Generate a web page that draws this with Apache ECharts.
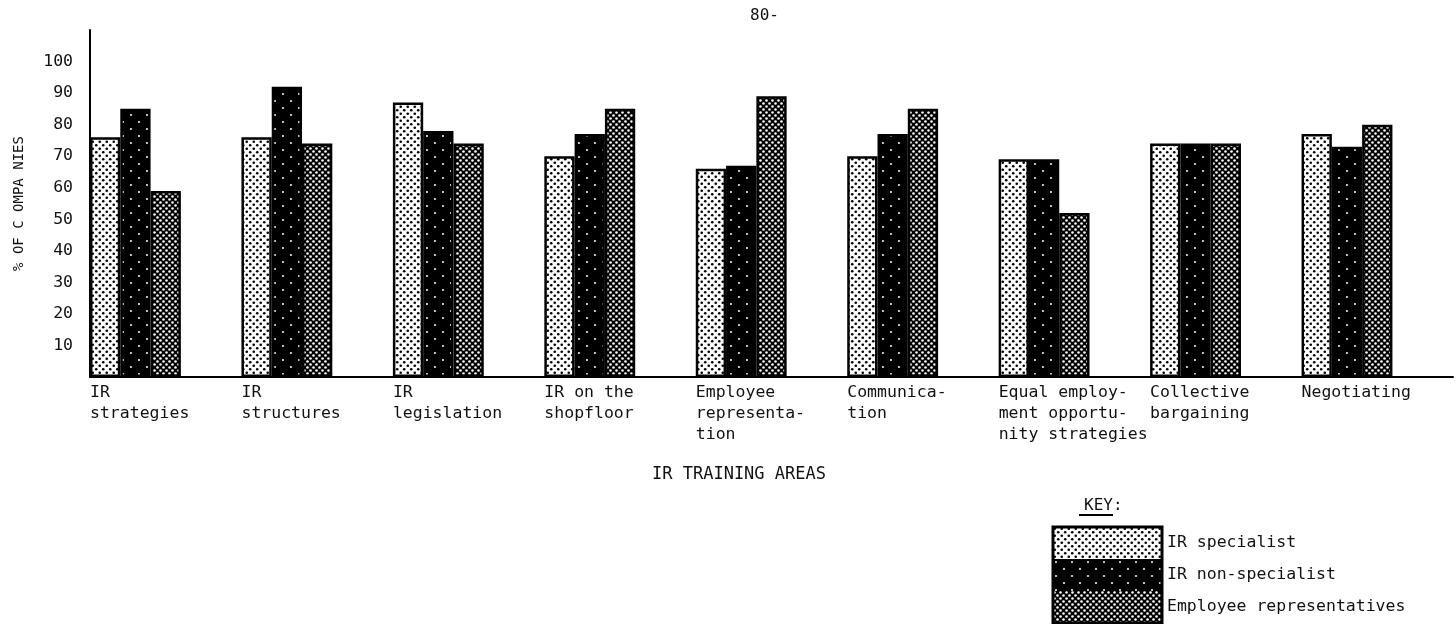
<!DOCTYPE html>
<html>
<head>
<meta charset="utf-8">
<script src="https://cdn.jsdelivr.net/npm/echarts@6/dist/echarts.min.js"></script>
<style>
html,body{margin:0;padding:0;background:#fff;}
#chart{width:1456px;height:624px;}
</style>
</head>
<body>
<div id="chart"></div>
<script>
const categories = [
  'IR\nstrategies',
  'IR\nstructures',
  'IR\nlegislation',
  'IR on the\nshopfloor',
  'Employee\nrepresenta-\ntion',
  'Communica-\ntion',
  'Equal employ-\nment opportu-\nnity strategies',
  'Collective\nbargaining',
  'Negotiating'
];
const seriesNames = ['IR specialist', 'IR non-specialist', 'Employee representatives'];
const irSpecialist    = [76, 76, 87, 70, 66, 70, 69, 74, 77];
const irNonSpecialist = [85, 92, 78, 77, 67, 77, 69, 74, 73];
const employeeReps    = [59, 74, 74, 85, 89, 85, 52, 74, 80];
const yTicks = [10, 20, 30, 40, 50, 60, 70, 80, 90, 100];

const FONT = '"DejaVu Sans Mono", "Liberation Mono", monospace';

function pattern(w, h, bg, fg, dots, r) {
  const c = document.createElement('canvas');
  c.width = w; c.height = h;
  const g = c.getContext('2d');
  g.fillStyle = bg; g.fillRect(0, 0, w, h);
  g.fillStyle = fg;
  dots.forEach(d => { g.beginPath(); g.arc(d[0], d[1], r, 0, Math.PI * 2); g.fill(); });
  return { image: c, repeat: 'repeat' };
}
const patSpec = pattern(7, 7, '#fff', '#000', [[1.75, 1.75], [5.25, 5.25]], 1.3);
const patNon  = pattern(16, 14, '#000', '#fff', [[3, 3], [11, 10]], 1.0);
const patEmp  = pattern(6, 6, '#000', '#fff', [[1.5, 1.5], [4.5, 4.5]], 1.3);
const pats = [patSpec, patNon, patEmp];
const values = [irSpecialist, irNonSpecialist, employeeReps];

const series = seriesNames.map((n, i) => ({
  name: n,
  type: 'bar',
  data: values[i],
  barGap: '0%',
  barCategoryGap: '0%',
  itemStyle: { color: pats[i], borderColor: '#000', borderWidth: 2.5 },
  emphasis: { disabled: true }
}));
// two empty slots so each group sits at the left of its band
series.push({ name: '_s1', type: 'bar', data: categories.map(() => null), barGap: '0%', barCategoryGap: '0%' });
series.push({ name: '_s2', type: 'bar', data: categories.map(() => null), barGap: '0%', barCategoryGap: '0%' });

const chart = echarts.init(document.getElementById('chart'), null, { renderer: 'canvas' });
chart.setOption({
  animation: false,
  backgroundColor: '#fff',
  title: [
    { text: '80-', left: 745, top: 3, textStyle: { fontFamily: FONT, fontSize: 16, fontWeight: 'normal', color: '#111' } },
    { text: 'IR TRAINING AREAS', left: 647, top: 461, textStyle: { fontFamily: FONT, fontSize: 17, fontWeight: 'normal', color: '#111' } },
    { text: 'KEY:', left: 1079, top: 493, textStyle: { fontFamily: FONT, fontSize: 16, fontWeight: 'normal', color: '#111' } }
  ],
  graphic: [
    { type: 'line', shape: { x1: 1079, y1: 515, x2: 1113, y2: 515 }, style: { stroke: '#000', lineWidth: 2 } },
    { type: 'rect', shape: { x: 1053, y: 527, width: 109, height: 96 }, style: { fill: 'none', stroke: '#000', lineWidth: 3 }, z: 100 }
  ],
  legend: {
    data: seriesNames,
    orient: 'vertical',
    left: 1053, top: 527, height: 120,
    padding: 0,
    itemWidth: 109, itemHeight: 32, itemGap: 0,
    icon: 'rect',
    itemStyle: { borderWidth: 0 },
    textStyle: { fontFamily: FONT, fontSize: 16.5, color: '#111' }
  },
  grid: { left: 90, top: 30, width: 1405, height: 347, containLabel: false },
  xAxis: [
    {
      type: 'category', data: categories, boundaryGap: true,
      axisLine: { lineStyle: { color: '#000', width: 2 } },
      axisTick: { show: false }, axisLabel: { show: false }
    },
    {
      type: 'category', position: 'bottom', data: categories.concat(['']), boundaryGap: false,
      axisLine: { show: false }, axisTick: { show: false },
      axisLabel: {
        show: true, interval: 0, align: 'left', verticalAlign: 'top', margin: 5,
        fontFamily: FONT, fontSize: 16.5, lineHeight: 21, color: '#111'
      }
    }
  ],
  yAxis: {
    type: 'value', min: 0, max: 110, interval: 10,
    name: '% OF C OMPA NIES', nameLocation: 'middle', nameRotate: 90, nameGap: 64,
    nameTextStyle: { fontFamily: FONT, fontSize: 14, color: '#111' },
    axisLine: { show: true, lineStyle: { color: '#000', width: 2 } },
    axisTick: { show: false },
    splitLine: { show: false },
    axisLabel: {
      margin: 17, fontFamily: FONT, fontSize: 16.5, color: '#111',
      formatter: v => (yTicks.indexOf(v) >= 0 ? String(v) : '')
    }
  },
  series: series
});
</script>
</body>
</html>
